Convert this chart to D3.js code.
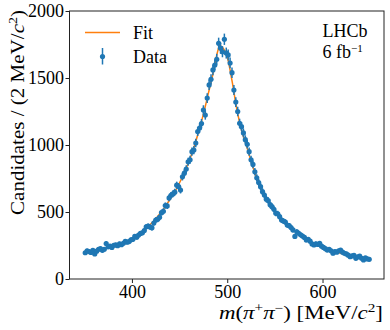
<!DOCTYPE html>
<html>
<head>
<meta charset="utf-8">
<script src="https://cdn.jsdelivr.net/npm/d3@7"></script>
<style>
  body { margin: 0; background: #fff; }
  text { font-family: 'Liberation Serif', 'Times New Roman', serif; fill: #000; }
</style>
</head>
<body>
<div id="chart"></div>
<script>
const width = 390;
const height = 330;
const margin = { top: 11, right: 6, bottom: 51, left: 69.5 };

// Data: candidates per 2 MeV bin, first bin centred on 351 MeV
const firstBin = 351;
const binWidth = 2;
const counts = [
  196, 211, 205, 198, 214, 187, 208, 222, 226, 214,
  222, 265, 240, 246, 236, 252, 254, 248, 262, 256,
  266, 281, 275, 279, 292, 296, 318, 312, 328, 340,
  345, 362, 390, 395, 388, 382, 418, 440, 445, 460,
  495, 505, 548, 545, 605, 625, 635, 648, 700, 690,
  664, 763, 790, 820, 875, 890, 950, 962, 1015, 1100,
  1127, 1160, 1261, 1224, 1350, 1448, 1490, 1560, 1597, 1640,
  1759, 1722, 1696, 1789, 1686, 1672, 1612, 1540, 1410, 1320,
  1250, 1162, 1137, 1090, 1040, 1005, 950, 890, 855, 800,
  755, 720, 689, 652, 627, 596, 585, 555, 540, 520,
  490, 487, 465, 440, 432, 425, 403, 398, 384, 366,
  318, 352, 341, 330, 320, 310, 291, 295, 282, 262,
  254, 263, 258, 266, 245, 236, 226, 216, 222, 210,
  192, 205, 200, 210, 216, 200, 192, 187, 178, 166,
  172, 176, 154, 165, 170, 155, 142, 158, 150, 147
];

// Fit curve
const fitMass = [
  350, 355, 360, 365, 370, 375, 380, 385, 390, 395,
  400, 405, 410, 415, 420, 425, 430, 435, 440, 445,
  450, 455, 460, 465, 470, 475, 480, 485, 490, 492,
  495, 500, 505, 510, 515, 520, 525, 530, 535, 540,
  545, 550, 555, 560, 565, 570, 575, 580, 585, 590,
  595, 600, 605, 610, 615, 620, 625, 630, 635, 640,
  645, 650
];
const fitValue = [
  200, 206, 212, 219, 226, 234, 243, 253, 265, 280,
  299, 323, 350, 380, 412, 450, 492, 540, 595, 650,
  718, 795, 880, 980, 1100, 1230, 1380, 1530, 1700, 1745,
  1728, 1660, 1480, 1270, 1110, 1000, 880, 770, 680, 610,
  552, 505, 462, 425, 392, 362, 335, 310, 288, 268,
  251, 236, 222, 210, 200, 191, 183, 176, 169, 163,
  158, 153
];

const xTicks = [400, 500, 600];
const yTicks = [0, 500, 1000, 1500, 2000];

const blue = '#1f77b4';
const orange = '#ff7f0e';
const serif = "'Liberation Serif', 'Times New Roman', serif";

const points = counts.map((v, i) => ({ m: firstBin + i * binWidth, n: v, err: Math.sqrt(v) }));
const fit = fitMass.map((m, i) => ({ m, v: fitValue[i] }));

const svg = d3
  .select('#chart')
  .append('svg')
  .attr('width', width)
  .attr('height', height);

const x = d3
  .scaleLinear()
  .domain([334.5, 664.5])
  .range([margin.left, width - margin.right]);

const y = d3
  .scaleLinear()
  .domain([0, 2000])
  .range([height - margin.bottom, margin.top]);

// Axes
const xAxis = svg
  .append('g')
  .attr('transform', `translate(0,${height - margin.bottom})`)
  .call(d3.axisBottom(x).tickValues(xTicks).tickFormat(d3.format('d')).tickSize(4).tickPadding(2.5));

const yAxis = svg
  .append('g')
  .attr('transform', `translate(${margin.left},0)`)
  .call(d3.axisLeft(y).tickValues(yTicks).tickFormat(d3.format('d')).tickSize(4).tickPadding(1.5));

[xAxis, yAxis].forEach(g => {
  g.attr('font-family', serif).attr('font-size', 18);
  g.select('.domain').remove();
  g.selectAll('.tick line').attr('stroke', '#222').attr('stroke-width', 1);
  g.selectAll('.tick text').attr('fill', '#000');
});

// Fit
const line = d3
  .line()
  .x(d => x(d.m))
  .y(d => y(d.v))
  .curve(d3.curveMonotoneX);

svg
  .append('path')
  .datum(fit)
  .attr('d', line)
  .attr('fill', 'none')
  .attr('stroke', orange)
  .attr('stroke-width', 1.5);

// Data with error bars
svg
  .append('g')
  .selectAll('line')
  .data(points)
  .enter()
  .append('line')
  .attr('x1', d => x(d.m))
  .attr('x2', d => x(d.m))
  .attr('y1', d => y(d.n - d.err))
  .attr('y2', d => y(d.n + d.err))
  .attr('stroke', blue)
  .attr('stroke-width', 1.5);

svg
  .append('g')
  .selectAll('circle')
  .data(points)
  .enter()
  .append('circle')
  .attr('cx', d => x(d.m))
  .attr('cy', d => y(d.n))
  .attr('r', 2.6)
  .attr('fill', blue);

// Frame
svg
  .append('rect')
  .attr('x', margin.left)
  .attr('y', margin.top)
  .attr('width', width - margin.right - margin.left)
  .attr('height', height - margin.bottom - margin.top)
  .attr('fill', 'none')
  .attr('stroke', '#222')
  .attr('stroke-width', 1);

// Axis labels
const yLabel = svg
  .append('text')
  .attr('transform', 'translate(24,10) rotate(-90)')
  .attr('text-anchor', 'end')
  .attr('font-size', 18)
  .attr('textLength', 205)
  .attr('lengthAdjust', 'spacingAndGlyphs');
yLabel.append('tspan').text('Candidates / (2 MeV/');
yLabel.append('tspan').attr('font-style', 'italic').text('c');
yLabel.append('tspan').attr('font-size', 12).attr('dy', -7).text('2');
yLabel.append('tspan').attr('dy', 7).text(')');

const xLabel = svg
  .append('text')
  .attr('x', width - margin.right - 1)
  .attr('y', 319)
  .attr('text-anchor', 'end')
  .attr('font-size', 18)
  .attr('textLength', 164)
  .attr('lengthAdjust', 'spacingAndGlyphs');
xLabel.append('tspan').attr('font-style', 'italic').text('m');
xLabel.append('tspan').text('(');
xLabel.append('tspan').attr('font-style', 'italic').text('π');
xLabel.append('tspan').attr('font-size', 12).attr('dy', -7).text('+');
xLabel.append('tspan').attr('font-style', 'italic').attr('dy', 7).text('π');
xLabel.append('tspan').attr('font-size', 12).attr('dy', -7).text('−');
xLabel.append('tspan').attr('dy', 7).text(')  [MeV/');
xLabel.append('tspan').attr('font-style', 'italic').text('c');
xLabel.append('tspan').attr('font-size', 12).attr('dy', -7).text('2');
xLabel.append('tspan').attr('dy', 7).text(']');

// Legend
const legend = svg.append('g');
legend
  .append('line')
  .attr('x1', 85)
  .attr('x2', 120)
  .attr('y1', 32.5)
  .attr('y2', 32.5)
  .attr('stroke', orange)
  .attr('stroke-width', 1.5);
legend
  .append('text')
  .attr('x', 133)
  .attr('y', 38.5)
  .attr('font-size', 18)
  .text('Fit');
legend
  .append('line')
  .attr('x1', 102.5)
  .attr('x2', 102.5)
  .attr('y1', 48)
  .attr('y2', 64.5)
  .attr('stroke', blue)
  .attr('stroke-width', 1.5);
legend
  .append('circle')
  .attr('cx', 102.5)
  .attr('cy', 56.5)
  .attr('r', 2.6)
  .attr('fill', blue);
legend
  .append('text')
  .attr('x', 133)
  .attr('y', 62.5)
  .attr('font-size', 18)
  .text('Data');

// Experiment tag
svg
  .append('text')
  .attr('x', 322.5)
  .attr('y', 37)
  .attr('font-size', 18)
  .text('LHCb');
const lumi = svg
  .append('text')
  .attr('x', 322.5)
  .attr('y', 57.5)
  .attr('font-size', 18);
lumi.append('tspan').text('6 fb');
lumi.append('tspan').attr('font-size', 11).attr('dy', -6).text('−1');
</script>
</body>
</html>
